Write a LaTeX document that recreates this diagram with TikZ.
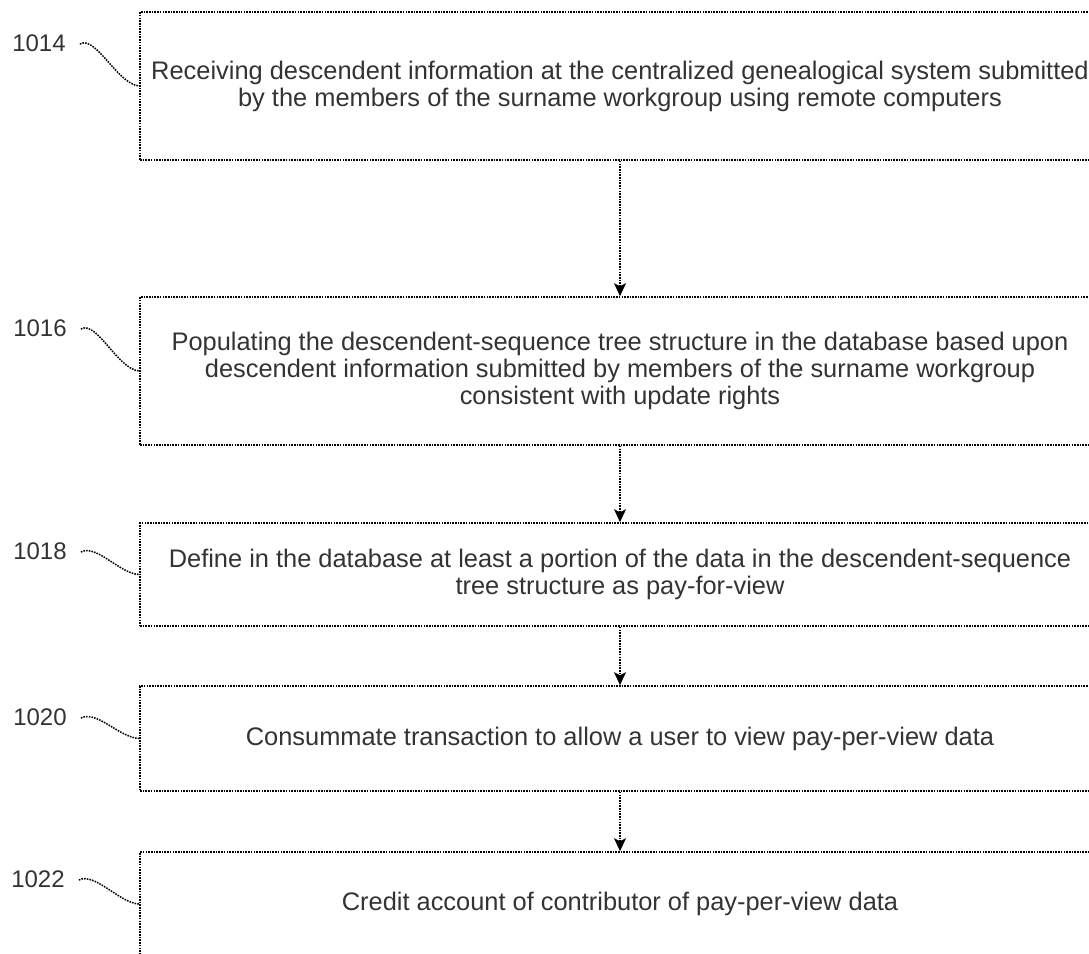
\documentclass[tikz,border=0pt]{standalone}
\usepackage{fontspec}
\setmainfont{Liberation Sans}
\usetikzlibrary{arrows.meta}
\begin{document}
\begin{tikzpicture}[x=1pt,y=-1pt]
\tikzset{
 dotline/.style={draw=black, dash pattern=on 1.6pt off 1.1pt, line width=1.6pt},
 box/.style={dotline, minimum width=960pt, align=center, inner sep=0pt, font=\fontsize{25.4}{27}\selectfont, text=black!80},
 lab/.style={font=\fontsize{24}{28}\selectfont, text=black!80, inner sep=0pt},
 flow/.style={dotline, -{Stealth[length=13pt,width=12pt,inset=3pt]}},
 squig/.style={dotline, line width=1.5pt},
}
\useasboundingbox (0,0) rectangle (1089,953);
\node[box, minimum height=148pt] (b1) at (620,86) {Receiving descendent information at the centralized genealogical system submitted\\by the members of the surname workgroup using remote computers};
\node[box, minimum height=148pt] (b2) at (620,371) {Populating the descendent-sequence tree structure in the database based upon\\descendent information submitted by members of the surname workgroup\\consistent with update rights};
\node[box, minimum height=103pt] (b3) at (620,574.5) {Define in the database at least a portion of the data in the descendent-sequence\\tree structure as pay-for-view};
\node[box, minimum height=105pt] (b4) at (620,738.5) {Consummate transaction to allow a user to view pay-per-view data};
\node[box, minimum height=104pt] (b5) at (620,904) {Credit account of contributor of pay-per-view data};
\node[lab] (l1) at (39,43) {1014};
\node[lab] (l2) at (40,328) {1016};
\node[lab] (l3) at (40,551) {1018};
\node[lab] (l4) at (40,717) {1020};
\node[lab] (l5) at (38,879) {1022};
\draw[flow] (b1) -- (b2);
\draw[flow] (b2) -- (b3);
\draw[flow] (b3) -- (b4);
\draw[flow] (b4) -- (b5);
\draw[squig] ([xshift=14pt,yshift=-1pt]l1.east) .. controls +(16,-9) and +(-22,-2) .. (b1.west);
\draw[squig] ([xshift=14pt,yshift=-1pt]l2.east) .. controls +(16,-9) and +(-22,-2) .. (b2.west);
\draw[squig] ([xshift=14pt,yshift=-1pt]l3.east) .. controls +(16,-8) and +(-20,-1) .. (b3.west);
\draw[squig] ([xshift=14pt,yshift=-1pt]l4.east) .. controls +(16,-8) and +(-20,-1) .. (b4.west);
\draw[squig] ([xshift=14pt,yshift=-1pt]l5.east) .. controls +(16,-8) and +(-20,-1) .. (b5.west);
\end{tikzpicture}
\end{document}
